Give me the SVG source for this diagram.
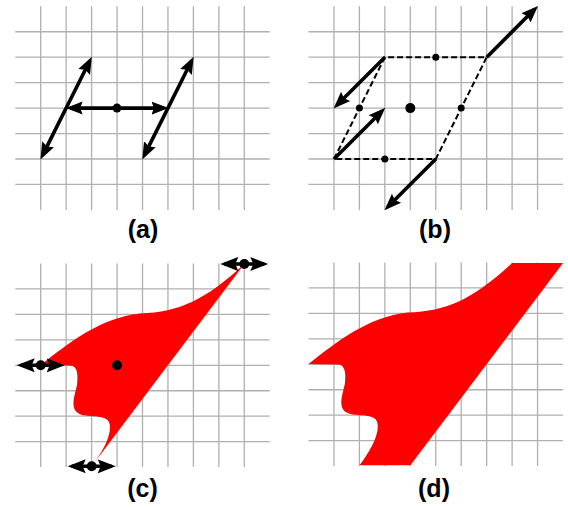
<svg xmlns="http://www.w3.org/2000/svg" xmlns:xlink="http://www.w3.org/1999/xlink" width="568" height="508" viewBox="0 0 568 508">
<style>
.grid{fill:none;stroke:#b0b0b0;stroke-width:1.3}
.arr{fill:none;stroke:#000;stroke-width:3.6;marker-start:url(#ah);marker-end:url(#ah)}
.arr1{fill:none;stroke:#000;stroke-width:3.6;marker-end:url(#ah)}
.arr2{fill:none;stroke:#000;stroke-width:3.6;marker-start:url(#ah2);marker-end:url(#ah2)}
.dash{fill:none;stroke:#000;stroke-width:2;stroke-dasharray:6 3}
.lbl{font-family:"Liberation Sans",Arial,sans-serif;font-weight:bold;font-size:25px;text-anchor:middle;fill:#000}
.shape{fill:#ff0000;stroke:none}
</style>
<defs>
<marker id="ah" viewBox="0 -8 18 16" markerWidth="18" markerHeight="16" refX="12.5" refY="0" orient="auto-start-reverse" markerUnits="userSpaceOnUse"><path d="M0,-6.5 L17,0 L0,6.5 L2.5,0 Z" fill="#000"/></marker>
<marker id="ah2" viewBox="0 -8 19 16" markerWidth="19" markerHeight="16" refX="14" refY="0" orient="auto-start-reverse" markerUnits="userSpaceOnUse"><path d="M0,-7 L18,0 L0,7 L3,0 Z" fill="#000"/></marker>
<g id="grid"><path class="grid" d="M25.45,0V203.6M50.9,0V203.6M76.35,0V203.6M101.8,0V203.6M127.25,0V203.6M152.7,0V203.6M178.15,0V203.6M203.6,0V203.6M229.05,0V203.6M0,25.45H254.5M0,50.9H254.5M0,76.35H254.5M0,101.8H254.5M0,127.25H254.5M0,152.7H254.5M0,178.15H254.5"/></g>
<path id="cshape" d="M40.7,365 L70,365.5 C78,366 78,375 77,385 C74,398 68,413 85,415.5 C100,417 110,416 110,427 C110,440 100,455 91.7,466.3 L244.3,264 C205,300 180,312 140,313.5 C100,318 70,342 40.7,365 Z"/>
</defs>

<g id="panel-a">
<use xlink:href="#grid" href="#grid" x="15.25" y="6.3"/>
<g id="a-connectors">
<path class="arr" d="M42.5,155.4 L89.8,60.8"/>
<path class="arr" d="M144.3,155.4 L191.6,60.8"/>
<path class="arr" d="M70.15,108.1 L164,108.1"/>
</g>
<g id="a-center"><circle cx="117" cy="108.1" r="4.5"/></g>
<text class="lbl" x="143" y="238">(a)</text>
</g>

<g id="panel-b">
<use xlink:href="#grid" href="#grid" x="308.5" y="6.3"/>
<g id="b-connectors">
<path class="dash" d="M334,159 L384.9,57.2 L486.7,57.2 L435.8,159 Z"/>
<path class="arr1" d="M384.9,57.2 L336.8,105.3"/>
<path class="arr1" d="M334,159 L382.1,110.9"/>
<path class="arr1" d="M486.7,57.2 L534.8,9.1"/>
<path class="arr1" d="M435.8,159 L387.7,207.1"/>
</g>
<g id="b-points">
<circle cx="435.8" cy="57.2" r="3.5"/>
<circle cx="359.4" cy="108.1" r="3.5"/>
<circle cx="461.2" cy="108.1" r="3.5"/>
<circle cx="384.9" cy="159" r="3.5"/>
<circle cx="410.3" cy="108.1" r="5"/>
</g>
<text class="lbl" x="435" y="238">(b)</text>
</g>

<g id="panel-c">
<use xlink:href="#grid" href="#grid" x="15.25" y="263.5"/>
<g id="c-shape"><use xlink:href="#cshape" href="#cshape" class="shape"/></g>
<g id="c-center"><circle cx="117" cy="365.3" r="5"/></g>
<g id="c-connectors">
<path class="arr2" d="M20.7,365.3 L60.7,365.3"/>
<path class="arr2" d="M224.3,264 L264.3,264"/>
<path class="arr2" d="M71.7,466.3 L111.7,466.3"/>
</g>
<g id="c-points">
<circle cx="40.7" cy="365.3" r="5"/>
<circle cx="244.3" cy="264" r="5"/>
<circle cx="91.7" cy="466.3" r="5"/>
</g>
<text class="lbl" x="142.5" y="497">(c)</text>
</g>

<g id="panel-d">
<use xlink:href="#grid" href="#grid" x="308.5" y="262.5"/>
<g id="d-shape"><path class="shape" transform="translate(267.8,-1)" d="M40.7,365 L70,365.5 C78,366 78,375 77,385 C74,398 68,413 85,415.5 C100,417 110,416 110,427 C110,440 100,455 91.7,466.3 L142.6,466.3 L295.2,264 L244.3,264 C205,300 180,312 140,313.5 C100,318 70,342 40.7,365 Z"/></g>
<text class="lbl" x="434" y="497">(d)</text>
</g>
</svg>
